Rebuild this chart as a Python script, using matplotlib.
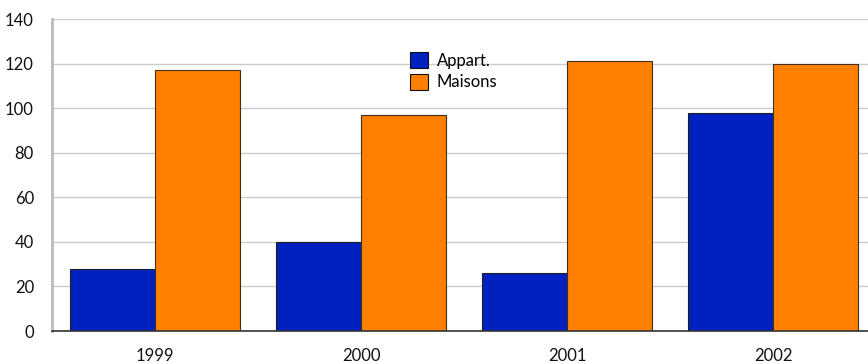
import matplotlib
matplotlib.use("Agg")
import matplotlib.pyplot as plt
from matplotlib.patches import Patch
import numpy as np

# ventes par annee
annees = ["1999", "2000", "2001", "2002"]
appart = [28, 40, 26, 98]
maisons = [117, 97, 121, 120]

bleu = "#0020c0"
orange = "#ff8000"

plt.rcParams["font.family"] = ["Lato", "DejaVu Sans"]

fig = plt.figure(figsize=(8.68, 3.64), dpi=100)
ax = fig.add_axes([52 / 868, 33 / 364, 824 / 868, 312 / 364])

x = np.arange(len(annees))
w = 0.415
ax.bar(x - w / 2, appart, w, color=bleu, edgecolor="#202020", linewidth=0.8, zorder=3)
ax.bar(x + w / 2, maisons, w, color=orange, edgecolor="#403020", linewidth=0.8, zorder=3)

ax.set_xlim(-0.5, len(annees) - 0.5)
ax.set_ylim(0, 140)
ax.set_yticks(range(0, 141, 20))
ax.set_xticks(x)
ax.set_xticklabels(annees)
ax.tick_params(axis="both", length=0, labelsize=12, colors="#111111")
ax.tick_params(axis="y", pad=13)
ax.tick_params(axis="x", pad=12)

ax.grid(axis="y", color="#cccccc", linewidth=1, zorder=0)
for s in ["top", "right"]:
    ax.spines[s].set_visible(False)
ax.spines["left"].set_color("#bbbbbb")
ax.spines["left"].set_linewidth(2)
ax.spines["bottom"].set_color("#333333")
ax.spines["bottom"].set_linewidth(1.2)
ax.spines["bottom"].set_zorder(4)

handles = [Patch(facecolor=bleu, edgecolor="#111111", linewidth=0.8),
           Patch(facecolor=orange, edgecolor="#111111", linewidth=0.8)]
fig.legend(handles, ["Appart.", "Maisons"], loc="upper left",
           bbox_to_anchor=(395 / 868, 1 - 37 / 364), frameon=False,
           fontsize=12, handlelength=1.1, handleheight=1.1,
           handletextpad=0.5, labelspacing=0.3)

fig.savefig("out.png", dpi=100)
